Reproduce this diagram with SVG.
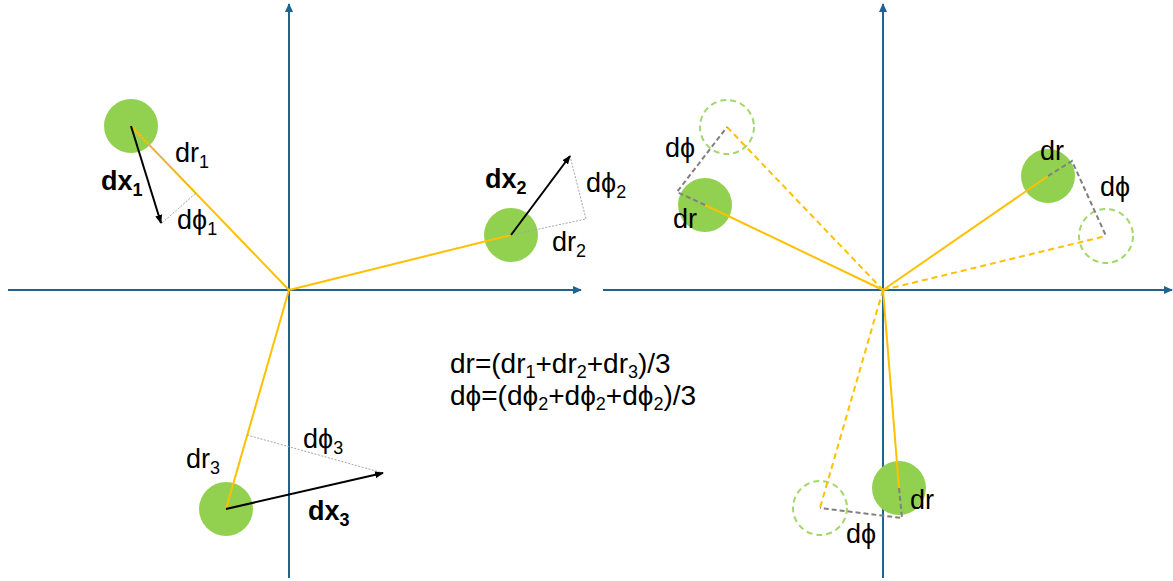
<svg xmlns="http://www.w3.org/2000/svg" width="1173" height="581" viewBox="0 0 1173 581">
<style>
.axis{stroke:#1F6391;stroke-width:2;fill:none}
.yel{stroke:#FFC000;stroke-width:2;fill:none}
.yeld{stroke:#FFC000;stroke-width:2;fill:none;stroke-dasharray:6 4}
.gdot{stroke:#A6A6A6;stroke-width:1;fill:none;stroke-dasharray:2 1.5}
.gdash{stroke:#808080;stroke-width:2;fill:none;stroke-dasharray:5 3}
.vec{stroke:#000;stroke-width:2;fill:none}
.ball{fill:#92D050}
.ghost{fill:none;stroke:#92D050;stroke-width:2;stroke-dasharray:6 4;opacity:0.85}
text{font-family:"Liberation Sans",Arial,"DejaVu Sans",sans-serif;font-size:27px;fill:#000}
.f{font-size:28px}
.b{font-weight:bold}
.s{font-size:18px}
</style>
<defs>
<marker id="ax" markerWidth="10" markerHeight="10" refX="8" refY="5" orient="auto" markerUnits="userSpaceOnUse">
<path d="M0,1 L9,5 L0,9 Z" fill="#1F6391"/>
</marker>
<marker id="ar" markerWidth="10" markerHeight="10" refX="8" refY="5" orient="auto" markerUnits="userSpaceOnUse">
<path d="M0,1.5 L9,5 L0,8.5 Z" fill="#000"/>
</marker>
</defs>
<g id="connectors">
<line class="axis" x1="289" y1="578" x2="289" y2="4" marker-end="url(#ax)"/>
<line class="axis" x1="8" y1="290" x2="581" y2="290" marker-end="url(#ax)"/>
<line class="axis" x1="883" y1="578" x2="883" y2="4" marker-end="url(#ax)"/>
<line class="axis" x1="603" y1="290" x2="1172" y2="290" marker-end="url(#ax)"/>
</g>
<g id="p1">
<circle class="ball" cx="131" cy="126" r="27"/>
<line class="yel" x1="131" y1="126" x2="289" y2="290"/>
<polyline class="gdot" points="131,126 196,193 162,223"/>
<line class="vec" x1="131" y1="126" x2="161" y2="223" marker-end="url(#ar)"/>
<text x="175" y="162">dr<tspan class="s" dy="6">1</tspan></text>
<text class="b" x="101" y="190">dx<tspan class="s" dy="6">1</tspan></text>
<text x="177" y="229">dϕ<tspan class="s" dy="6">1</tspan></text>
</g>
<g id="p2">
<circle class="ball" cx="511" cy="235" r="27"/>
<line class="yel" x1="289" y1="290" x2="511" y2="235"/>
<polyline class="gdot" points="511,235 586,219 570,156"/>
<line class="vec" x1="511" y1="235" x2="570" y2="156" marker-end="url(#ar)"/>
<text class="b" x="485" y="188">dx<tspan class="s" dy="6">2</tspan></text>
<text x="586" y="192">dϕ<tspan class="s" dy="6">2</tspan></text>
<text x="552" y="251">dr<tspan class="s" dy="6">2</tspan></text>
</g>
<g id="p3">
<circle class="ball" cx="226" cy="509" r="27"/>
<line class="yel" x1="289" y1="290" x2="226" y2="509"/>
<polyline class="gdot" points="247,435 383,473"/>
<line class="vec" x1="226" y1="509" x2="383" y2="473" marker-end="url(#ar)"/>
<text x="186" y="468">dr<tspan class="s" dy="6">3</tspan></text>
<text x="303" y="448">dϕ<tspan class="s" dy="6">3</tspan></text>
<text class="b" x="308" y="520">dx<tspan class="s" dy="6">3</tspan></text>
</g>
<g id="formula">
<text class="f" x="450" y="373">dr=(dr<tspan class="s" dy="5">1</tspan><tspan dy="-5">+dr</tspan><tspan class="s" dy="5">2</tspan><tspan dy="-5">+dr</tspan><tspan class="s" dy="5">3</tspan><tspan dy="-5">)/3</tspan></text>
<text class="f" x="450" y="405">dϕ=(dϕ<tspan class="s" dy="5">2</tspan><tspan dy="-5">+dϕ</tspan><tspan class="s" dy="5">2</tspan><tspan dy="-5">+dϕ</tspan><tspan class="s" dy="5">2</tspan><tspan dy="-5">)/3</tspan></text>
</g>
<g id="q1">
<circle class="ball" cx="705" cy="205" r="27"/>
<circle class="ghost" cx="727" cy="127" r="27"/>
<line class="yel" x1="705" y1="205" x2="883" y2="290"/>
<line class="yeld" x1="727" y1="127" x2="883" y2="290"/>
<polyline class="gdash" points="705,205 677,192 727,127"/>
<text x="665" y="157">dϕ</text>
<text x="673" y="228">dr</text>
</g>
<g id="q2">
<circle class="ball" cx="1048" cy="176" r="27"/>
<circle class="ghost" cx="1106" cy="236" r="27"/>
<line class="yel" x1="883" y1="290" x2="1048" y2="176"/>
<line class="yeld" x1="883" y1="290" x2="1106" y2="236"/>
<polyline class="gdash" points="1048,176 1072,161 1106,236"/>
<text x="1040" y="160">dr</text>
<text x="1100" y="196">dϕ</text>
</g>
<g id="q3">
<circle class="ball" cx="899" cy="488" r="27"/>
<circle class="ghost" cx="820" cy="508" r="27"/>
<line class="yel" x1="883" y1="290" x2="899" y2="488"/>
<line class="yeld" x1="883" y1="290" x2="820" y2="508"/>
<polyline class="gdash" points="899,488 902,518 820,508"/>
<text x="910" y="509">dr</text>
<text x="846" y="543">dϕ</text>
</g>
</svg>
